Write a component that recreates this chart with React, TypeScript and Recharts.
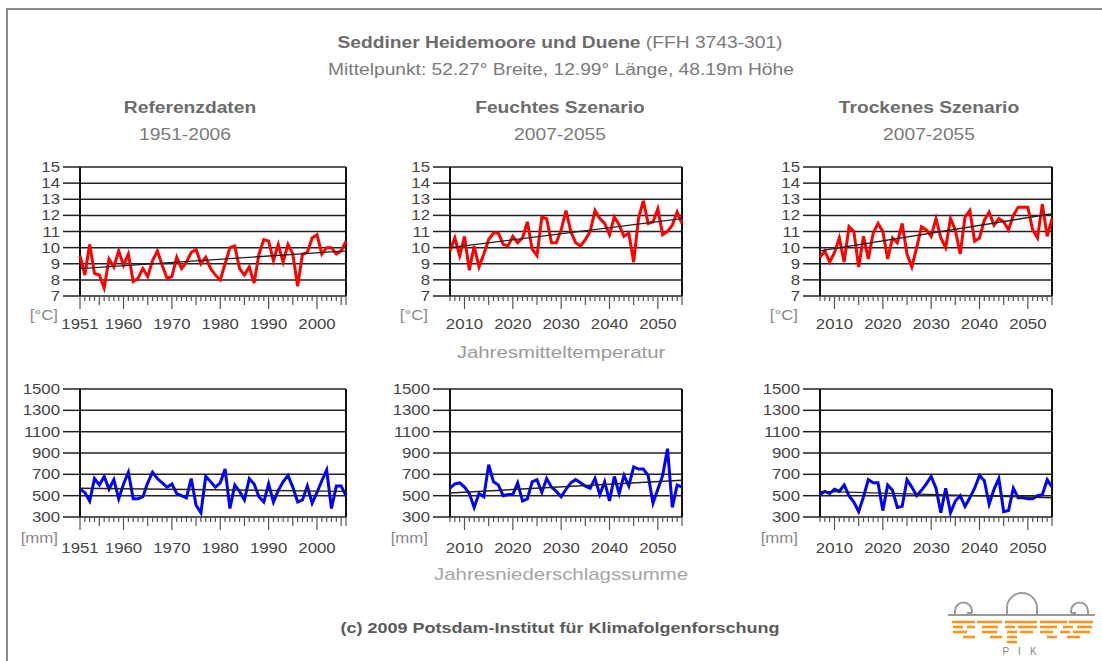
import React from "react";
import { LineChart, Line, XAxis, YAxis, CartesianGrid, ReferenceLine } from "recharts";

const FONT = "'Liberation Sans', Arial, Helvetica, sans-serif";
// the original text is rendered a bit wider than Arial
const SX = 1.2;

const YEARS_REF = Array.from({ length: 56 }, (_, i) => 1951 + i);
const YEARS_SCEN = Array.from({ length: 49 }, (_, i) => 2007 + i);
const LABELS_REF = [1951, 1960, 1970, 1980, 1990, 2000];
const LABELS_SCEN = [2010, 2020, 2030, 2040, 2050];
const TEMP_TICKS = [7, 8, 9, 10, 11, 12, 13, 14, 15];
const PREC_TICKS = [300, 500, 700, 900, 1100, 1300, 1500];

// Jahresmitteltemperatur [°C]
const TEMP_REF = [
  9.5, 8.3, 10.2, 8.4, 8.3, 7.5, 9.3, 8.8, 9.8, 8.9,
  9.6, 7.9, 8.1, 8.7, 8.2, 9.2, 9.8, 8.9, 8.1, 8.2,
  9.4, 8.7, 9.1, 9.7, 9.9, 9.0, 9.4, 8.7, 8.3, 8.0,
  9.0, 10.0, 10.1, 8.7, 8.3, 8.8, 7.8, 9.6, 10.5, 10.4,
  9.2, 10.2, 9.1, 10.2, 9.6, 7.6, 9.6, 9.7, 10.6, 10.8,
  9.6, 10.0, 10.0, 9.6, 9.8, 10.4,
];
const TEMP_WET = [
  9.8, 10.6, 9.5,
  10.7, 8.6, 10.1, 8.8, 9.6, 10.5, 10.9, 10.9, 10.2, 10.1,
  10.7, 10.3, 10.6, 11.6, 9.9, 9.5, 11.9, 11.8, 10.3, 10.3,
  11.1, 12.3, 11.0, 10.3, 10.1, 10.5, 11.0, 12.3, 11.8, 11.5,
  10.8, 11.9, 11.4, 10.7, 10.9, 9.1, 11.8, 12.9, 11.5, 11.6,
  12.4, 10.8, 11.0, 11.4, 12.2, 11.5,
];
const TEMP_DRY = [
  9.4, 9.8, 9.1,
  9.7, 10.6, 9.1, 11.3, 11.0, 8.8, 10.7, 9.3, 10.9, 11.5,
  11.0, 9.3, 10.6, 10.3, 11.5, 9.6, 8.8, 10.0, 11.3, 11.1,
  10.7, 11.8, 10.6, 10.0, 11.8, 11.1, 9.6, 11.9, 12.3, 10.4,
  10.6, 11.7, 12.2, 11.4, 11.8, 11.6, 11.1, 12.0, 12.5, 12.5,
  12.5, 11.1, 10.6, 12.7, 10.7, 11.8,
];

// Jahresniederschlagssumme [mm]
const PREC_REF = [
  560, 530, 450, 660, 600, 680, 560, 650, 470, 610,
  720, 470, 470, 490, 620, 720, 660, 620, 580, 610,
  520, 500, 480, 660, 410, 340, 680, 630, 580, 620,
  750, 380, 600, 540, 460, 660, 610, 490, 440, 610,
  440, 550, 630, 690, 580, 440, 460, 590, 430, 530,
  640, 740, 380, 590, 590, 500,
];
const PREC_WET = [
  570, 610, 620,
  580, 520, 390, 520, 490, 790, 630, 600, 500, 510,
  510, 620, 450, 470, 630, 650, 530, 660, 580, 540,
  490, 560, 620, 650, 620, 590, 570, 660, 510, 630,
  450, 680, 520, 690, 590, 770, 750, 750, 690, 430,
  560, 690, 940, 390, 600, 580,
];
const PREC_DRY = [
  510, 540, 520,
  560, 540, 600, 500, 440, 350, 490, 650, 620, 620,
  360, 600, 550, 390, 400, 650, 580, 500, 550, 610,
  680, 570, 340, 570, 340, 450, 500, 400, 480, 570,
  690, 640, 420, 560, 660, 350, 360, 570, 480, 480,
  470, 470, 500, 510, 650, 580,
];

// linear trend, start and end value
const TREND_TEMP_REF = [8.7, 9.8];
const TREND_TEMP_WET = [10.0, 11.8];
const TREND_TEMP_DRY = [9.8, 12.1];
const TREND_PREC_REF = [570, 540];
const TREND_PREC_WET = [525, 645];
const TREND_PREC_DRY = [540, 480];

const AXW = 70;
const MT = 10;
const MR = 10;
const XH = 45;

interface PanelProps {
  years: number[];
  values: number[];
  trend: number[];
  labels: number[];
  ticks: number[];
  color: string;
  unit: string;
  left: number;
  top: number;
  width: number;
  height: number;
  unitOffset: number;
  labelOffset: number;
}

const renderYTick = ({ x, y, payload }: any) => (
  <text
    transform={`translate(${x},${y}) scale(${SX},1)`}
    textAnchor="end"
    dy="0.36em"
    fill="#444"
    fontSize={14}
    fontFamily={FONT}
  >
    {payload.value}
  </text>
);

const Txt = ({ x, y, align = "center", style, children }: any) => (
  <div
    style={{
      position: "absolute",
      left: x,
      top: y,
      whiteSpace: "nowrap",
      fontFamily: FONT,
      lineHeight: 1,
      transformOrigin: align === "right" ? "right center" : "center center",
      transform: `translate(${align === "right" ? -100 : -50}%, -50%) scaleX(${SX})`,
      ...style,
    }}
  >
    {children}
  </div>
);

const Panel: React.FC<PanelProps> = (p) => {
  const first = p.years[0];
  const last = p.years[p.years.length - 1];
  const data = p.years.map((year, i) => ({ year, v: p.values[i] }));

  const renderXTick = ({ x, y, payload }: any) => {
    const yr = payload.value;
    const lab = p.labels.includes(yr);
    const len = lab ? 13 : yr % 5 === 0 || yr === last ? 9 : 5;
    return (
      <g>
        <line x1={x} x2={x} y1={y} y2={y + len} stroke="#555" strokeWidth={1.2} />
        {lab && (
          <text
            transform={`translate(${x},${y + p.labelOffset}) scale(${SX},1)`}
            textAnchor="middle"
            fill="#444"
            fontSize={14}
            fontFamily={FONT}
          >
            {yr}
          </text>
        )}
      </g>
    );
  };

  return (
    <div style={{ position: "absolute", left: p.left - AXW, top: p.top - MT }}>
      <LineChart
        width={AXW + p.width + MR}
        height={MT + p.height + XH}
        data={data}
        margin={{ top: MT, right: MR, left: 0, bottom: 0 }}
      >
        <CartesianGrid vertical={false} stroke="#222" strokeWidth={1.5} />
        <XAxis
          dataKey="year"
          type="number"
          domain={[first, last]}
          ticks={p.years}
          interval={0}
          tick={renderXTick}
          tickLine={false}
          axisLine={false}
          tickSize={0}
          tickMargin={0}
          height={XH}
        />
        <YAxis
          type="number"
          domain={[p.ticks[0], p.ticks[p.ticks.length - 1]]}
          ticks={p.ticks}
          interval={0}
          width={AXW}
          tick={renderYTick}
          tickLine={{ stroke: "#222", strokeWidth: 1.5 }}
          tickSize={17}
          tickMargin={3}
          axisLine={false}
        />
        <ReferenceLine x={first} stroke="#111" strokeWidth={2} />
        <ReferenceLine x={last} stroke="#111" strokeWidth={2} />
        <Line
          type="linear"
          dataKey="v"
          stroke={p.color}
          strokeWidth={3}
          dot={false}
          activeDot={false}
          isAnimationActive={false}
        />
        <ReferenceLine
          segment={[
            { x: first, y: p.trend[0] },
            { x: last, y: p.trend[1] },
          ]}
          stroke="#222"
          strokeWidth={1.4}
        />
      </LineChart>
      <Txt x={AXW - 22} y={MT + p.height + p.unitOffset} align="right" style={{ fontSize: 14, color: "#888" }}>
        {p.unit}
      </Txt>
    </div>
  );
};

const PikLogo = () => {
  // orange "reflection" stripes under the domes, x ranges per row
  const rows: number[][][] = [
    [[12, 35], [37, 62], [65, 97], [100, 127], [129, 153]],
    [[13, 23], [27, 35], [42, 58], [65, 75], [78, 97], [100, 117], [123, 133], [137, 152]],
    [[13, 27], [42, 57], [67, 77], [80, 93], [100, 113], [120, 130], [133, 150]],
    [[23, 35], [50, 62], [67, 77], [107, 117], [127, 140]],
    [[67, 77]],
  ];
  return (
    <svg width={160} height={76} style={{ position: "absolute", left: 940, top: 585 }}>
      <path d="M15,30 L15,26 A8.5,8.5 0 0 1 32,26 L32,28 M32,28 L27,28" fill="none" stroke="#9a9a9a" strokeWidth={2} />
      <path d="M67,30 L67,23 A15,15 0 0 1 97,23 L97,30" fill="none" stroke="#9a9a9a" strokeWidth={2} />
      <path d="M131,28 L131,26 A8.5,8.5 0 0 1 148,26 L148,30 M131,28 L136,28" fill="none" stroke="#9a9a9a" strokeWidth={2} />
      <line x1={8} x2={155} y1={30} y2={30} stroke="#9a9a9a" strokeWidth={2} />
      {rows.map((segs, r) =>
        segs.map(([a, b], k) => (
          <line key={`${r}-${k}`} x1={a} x2={b} y1={37 + r * 5} y2={37 + r * 5} stroke="#f7941d" strokeWidth={2.6} />
        ))
      )}
      <text x={84} y={70} textAnchor="middle" fill="#888" fontSize={10} fontFamily={FONT} letterSpacing={9}>
        PIK
      </text>
    </svg>
  );
};

export default function App() {
  return (
    <div
      style={{
        position: "absolute",
        left: 0,
        top: 0,
        width: 1102,
        height: 661,
        background: "#fff",
        overflow: "hidden",
        fontFamily: FONT,
      }}
    >
      <div style={{ position: "absolute", left: 6, top: 8, width: 1096, height: 653, borderTop: "2px solid #8c8c8c", borderLeft: "2px solid #8c8c8c" }} />

      <Txt x={560} y={43} style={{ fontSize: 16 }}>
        <b style={{ color: "#6b6b6b" }}>Seddiner Heidemoore und Duene</b>
        <span style={{ color: "#7a7a7a" }}> (FFH 3743-301)</span>
      </Txt>
      <Txt x={561} y={70} style={{ fontSize: 16, color: "#7a7a7a" }}>
        Mittelpunkt: 52.27° Breite, 12.99° Länge, 48.19m Höhe
      </Txt>

      <Txt x={190} y={108} style={{ fontSize: 16, fontWeight: "bold", color: "#6b6b6b" }}>Referenzdaten</Txt>
      <Txt x={185} y={135} style={{ fontSize: 16, color: "#7a7a7a" }}>1951-2006</Txt>
      <Txt x={560} y={108} style={{ fontSize: 16, fontWeight: "bold", color: "#6b6b6b" }}>Feuchtes Szenario</Txt>
      <Txt x={560} y={135} style={{ fontSize: 16, color: "#7a7a7a" }}>2007-2055</Txt>
      <Txt x={929} y={108} style={{ fontSize: 16, fontWeight: "bold", color: "#6b6b6b" }}>Trockenes Szenario</Txt>
      <Txt x={929} y={135} style={{ fontSize: 16, color: "#7a7a7a" }}>2007-2055</Txt>

      <Panel years={YEARS_REF} values={TEMP_REF} trend={TREND_TEMP_REF} labels={LABELS_REF} ticks={TEMP_TICKS} color="#ff0000" unit="[°C]" left={80} top={167} width={266} height={129} unitOffset={19} labelOffset={33} />
      <Panel years={YEARS_SCEN} values={TEMP_WET} trend={TREND_TEMP_WET} labels={LABELS_SCEN} ticks={TEMP_TICKS} color="#ff0000" unit="[°C]" left={450} top={167} width={232} height={129} unitOffset={19} labelOffset={33} />
      <Panel years={YEARS_SCEN} values={TEMP_DRY} trend={TREND_TEMP_DRY} labels={LABELS_SCEN} ticks={TEMP_TICKS} color="#ff0000" unit="[°C]" left={820} top={167} width={232} height={129} unitOffset={19} labelOffset={33} />

      <Txt x={561} y={352} style={{ fontSize: 17, color: "#9a9a9a" }}>Jahresmitteltemperatur</Txt>

      <Panel years={YEARS_REF} values={PREC_REF} trend={TREND_PREC_REF} labels={LABELS_REF} ticks={PREC_TICKS} color="#0000ff" unit="[mm]" left={80} top={389} width={266} height={128} unitOffset={21} labelOffset={36} />
      <Panel years={YEARS_SCEN} values={PREC_WET} trend={TREND_PREC_WET} labels={LABELS_SCEN} ticks={PREC_TICKS} color="#0000ff" unit="[mm]" left={450} top={389} width={232} height={128} unitOffset={21} labelOffset={36} />
      <Panel years={YEARS_SCEN} values={PREC_DRY} trend={TREND_PREC_DRY} labels={LABELS_SCEN} ticks={PREC_TICKS} color="#0000ff" unit="[mm]" left={820} top={389} width={232} height={128} unitOffset={21} labelOffset={36} />

      <Txt x={561} y={574} style={{ fontSize: 17, color: "#a5a5a5" }}>Jahresniederschlagssumme</Txt>

      <Txt x={560} y={627} style={{ fontSize: 15, fontWeight: "bold", color: "#5a5a5a" }}>
        (c) 2009 Potsdam-Institut für Klimafolgenforschung
      </Txt>

      <PikLogo />
    </div>
  );
}
